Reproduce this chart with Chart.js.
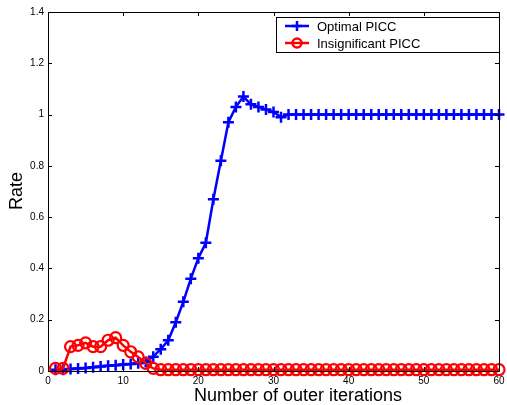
<!DOCTYPE html>
<html>
<head>
<meta charset="utf-8">
<script src="https://cdn.jsdelivr.net/npm/chart.js@4"></script>
<style>
  html, body { margin: 0; padding: 0; background: #fff; }
  #wrap { width: 507px; height: 405px; }
</style>
</head>
<body>
<div id="wrap"><canvas id="chart" width="507" height="405"></canvas></div>
<script>
// ====== Data ======
const iterations = Array.from({ length: 60 }, (_, i) => i + 1);
const optimalPicc = [
  0.005, 0.005, 0.008, 0.01, 0.012, 0.015, 0.018, 0.02, 0.022, 0.025,
  0.027, 0.03, 0.035, 0.056, 0.085, 0.12, 0.19, 0.27, 0.36, 0.44,
  0.50, 0.67, 0.82, 0.97, 1.03, 1.07, 1.04, 1.03, 1.02, 1.01,
  0.99, 1.0, 1.0, 1.0, 1.0, 1.0, 1.0, 1.0, 1.0, 1.0,
  1.0, 1.0, 1.0, 1.0, 1.0, 1.0, 1.0, 1.0, 1.0, 1.0,
  1.0, 1.0, 1.0, 1.0, 1.0, 1.0, 1.0, 1.0, 1.0, 1.0
];
const insignificantPicc = [
  0.01, 0.01, 0.095, 0.10, 0.11, 0.095, 0.095, 0.12, 0.13, 0.10,
  0.075, 0.055, 0.03, 0.01, 0.005, 0.005, 0.005, 0.005, 0.005, 0.005,
  0.005, 0.005, 0.005, 0.005, 0.005, 0.005, 0.005, 0.005, 0.005, 0.005,
  0.005, 0.005, 0.005, 0.005, 0.005, 0.005, 0.005, 0.005, 0.005, 0.005,
  0.005, 0.005, 0.005, 0.005, 0.005, 0.005, 0.005, 0.005, 0.005, 0.005,
  0.005, 0.005, 0.005, 0.005, 0.005, 0.005, 0.005, 0.005, 0.005, 0.005
];
const seriesNames = ['Optimal PICC', 'Insignificant PICC'];
const xTicks = [0, 10, 20, 30, 40, 50, 60];
const yTicks = [0, 0.2, 0.4, 0.6, 0.8, 1, 1.2, 1.4];
const xTitle = 'Number of outer iterations';
const yTitle = 'Rate';

const BLUE = '#0000ff';
const RED = '#ff0000';
const FONT = 'Liberation Sans, Arial, sans-serif';

// ====== Box, inward ticks, titles, legend (MATLAB style) ======
const boxPlugin = {
  id: 'matlabBox',
  afterDraw(chart) {
    const { ctx, chartArea: a, scales } = chart;
    ctx.save();
    ctx.strokeStyle = '#000';
    ctx.lineWidth = 1;
    ctx.beginPath();
    ctx.rect(a.left + 0.5, a.top + 0.5, a.right - a.left, a.bottom - a.top);
    ctx.stroke();
    const len = 4;
    ctx.beginPath();
    xTicks.forEach(v => {
      const px = Math.round(scales.x.getPixelForValue(v)) + 0.5;
      ctx.moveTo(px, a.bottom); ctx.lineTo(px, a.bottom - len);
      ctx.moveTo(px, a.top); ctx.lineTo(px, a.top + len);
    });
    yTicks.forEach(v => {
      const py = Math.round(scales.y.getPixelForValue(v)) + 0.5;
      ctx.moveTo(a.left, py); ctx.lineTo(a.left + len, py);
      ctx.moveTo(a.right, py); ctx.lineTo(a.right - len, py);
    });
    ctx.stroke();

    // axis titles
    ctx.fillStyle = '#000';
    ctx.font = '18px ' + FONT;
    ctx.textAlign = 'center';
    ctx.textBaseline = 'alphabetic';
    ctx.fillText(xTitle, 298, 401);
    ctx.save();
    ctx.translate(22, 191);
    ctx.rotate(-Math.PI / 2);
    ctx.fillText(yTitle, 0, 0);
    ctx.restore();

    // legend
    const lx = 276, ly = 17, lw = 223, lh = 35;
    ctx.fillStyle = '#fff';
    ctx.fillRect(lx, ly, lw, lh);
    ctx.strokeStyle = '#000';
    ctx.lineWidth = 1;
    ctx.strokeRect(lx + 0.5, ly + 0.5, lw, lh);
    const rows = [
      { name: seriesNames[0], color: BLUE, y: 26, style: 'cross' },
      { name: seriesNames[1], color: RED, y: 43, style: 'circle' }
    ];
    rows.forEach(r => {
      ctx.strokeStyle = r.color;
      ctx.lineWidth = 2.5;
      ctx.beginPath();
      ctx.moveTo(285, r.y); ctx.lineTo(309, r.y);
      ctx.stroke();
      ctx.beginPath();
      if (r.style === 'cross') {
        ctx.moveTo(297, r.y - 5); ctx.lineTo(297, r.y + 5);
        ctx.moveTo(292, r.y); ctx.lineTo(302, r.y);
      } else {
        ctx.arc(297, r.y, 4.5, 0, Math.PI * 2);
      }
      ctx.stroke();
      ctx.fillStyle = '#000';
      ctx.font = '13px ' + FONT;
      ctx.textAlign = 'left';
      ctx.textBaseline = 'middle';
      ctx.fillText(r.name, 317, r.y + 1);
    });
    ctx.restore();
  }
};

// ====== Chart ======
const ctx = document.getElementById('chart').getContext('2d');
new Chart(ctx, {
  type: 'line',
  data: {
    labels: iterations,
    datasets: [
      {
        label: seriesNames[1],
        data: iterations.map((x, i) => ({ x, y: insignificantPicc[i] })),
        borderColor: RED,
        backgroundColor: 'rgba(0,0,0,0)',
        borderWidth: 2.5,
        pointStyle: 'circle',
        pointRadius: 5.5,
        pointBorderWidth: 2.2,
        pointBorderColor: RED,
        pointBackgroundColor: 'rgba(0,0,0,0)',
        tension: 0
      },
      {
        label: seriesNames[0],
        data: iterations.map((x, i) => ({ x, y: optimalPicc[i] })),
        borderColor: BLUE,
        backgroundColor: BLUE,
        borderWidth: 2.5,
        pointStyle: 'cross',
        pointRadius: 5.5,
        pointBorderWidth: 2.5,
        pointBorderColor: BLUE,
        tension: 0
      }
    ]
  },
  options: {
    responsive: false,
    animation: false,
    clip: false,
    layout: { padding: { left: 0, right: 4, top: 12, bottom: 0 } },
    plugins: {
      legend: { display: false },
      tooltip: { enabled: false }
    },
    scales: {
      x: {
        type: 'linear',
        min: 0, max: 60,
        afterBuildTicks: s => { s.ticks = xTicks.map(v => ({ value: v })); },
        afterFit: s => { s.height = 34; s.paddingLeft = 0; s.paddingRight = 0; },
        grid: { display: false, drawTicks: false },
        border: { display: false },
        ticks: { color: '#000', font: { family: FONT, size: 10 }, padding: 4, maxRotation: 0 },
        title: { display: false }
      },
      y: {
        type: 'linear',
        min: 0, max: 1.4,
        afterBuildTicks: s => { s.ticks = yTicks.map(v => ({ value: v })); },
        afterFit: s => { s.width = 48; s.paddingTop = 0; s.paddingBottom = 0; },
        grid: { display: false, drawTicks: false },
        border: { display: false },
        ticks: { color: '#000', font: { family: FONT, size: 10 }, padding: 4,
                 callback: v => String(Math.round(v * 10) / 10) },
        title: { display: false }
      }
    }
  },
  plugins: [boxPlugin]
});
</script>
</body>
</html>
